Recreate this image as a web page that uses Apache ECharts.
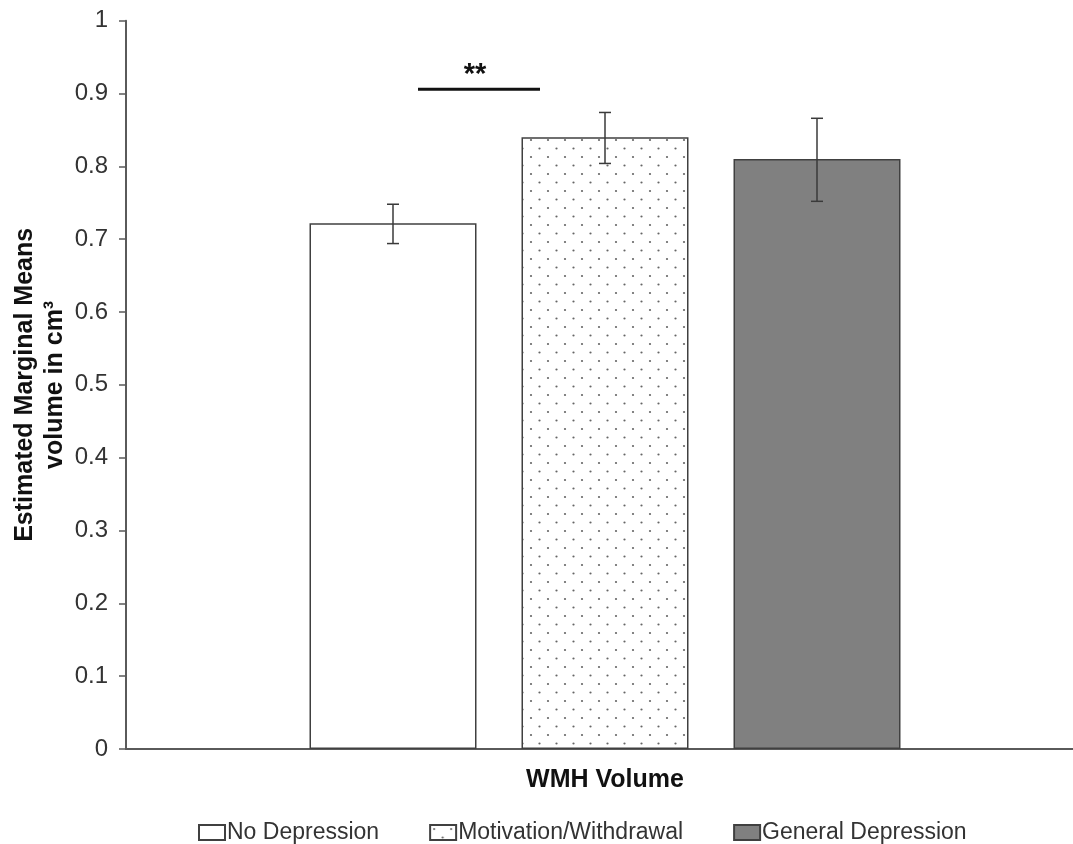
<!DOCTYPE html>
<html>
<head>
<meta charset="utf-8">
<script src="https://cdn.jsdelivr.net/npm/echarts@6/dist/echarts.min.js"></script>
<style>
html,body{margin:0;padding:0;background:#fff;}
#chart{width:1073px;height:844px;}
</style>
</head>
<body>
<div id="chart"></div>
<script>
// ---- data ----
var categories = ['WMH Volume'];
var seriesNames = ['No Depression', 'Motivation/Withdrawal', 'General Depression'];
var means = [0.722, 0.840, 0.810];
var errLow = [0.694, 0.804, 0.752];
var errHigh = [0.748, 0.874, 0.866];
var sigLevel = 0.906;
var sigLabel = '**';
var yTicks = [0, 0.1, 0.2, 0.3, 0.4, 0.5, 0.6, 0.7, 0.8, 0.9, 1];

// ---- styles ----
var FONT = '"Liberation Sans", Arial, sans-serif';
var BAR_W = 167, BAR_GAP = 45;
var edge = '#404040';

function dotPattern() {
  var c = document.createElement('canvas');
  c.width = 17; c.height = 17;
  var ctx = c.getContext('2d');
  ctx.fillStyle = '#fff';
  ctx.fillRect(0, 0, 17, 17);
  ctx.fillStyle = '#666';
  ctx.beginPath(); ctx.arc(4, 4, 1.1, 0, Math.PI * 2); ctx.fill();
  ctx.beginPath(); ctx.arc(12.5, 12.5, 1.1, 0, Math.PI * 2); ctx.fill();
  return c;
}
var fills = ['#ffffff', { image: dotPattern(), repeat: 'repeat' }, '#808080'];

var chart = echarts.init(document.getElementById('chart'), null, { renderer: 'canvas' });

var barSeries = seriesNames.map(function (name, i) {
  return {
    name: name,
    type: 'bar',
    data: [means[i]],
    barWidth: BAR_W,
    barGap: (BAR_GAP / BAR_W * 100) + '%',
    itemStyle: { color: fills[i], borderColor: edge, borderWidth: 1.5 },
    emphasis: { disabled: true },
    z: 2
  };
});

var errData = seriesNames.map(function (n, i) { return [0, errLow[i], errHigh[i], i]; });

var errSeries = {
  name: 'err',
  type: 'custom',
  data: errData,
  encode: { x: 0, y: [1, 2] },
  z: 5,
  silent: true,
  renderItem: function (params, api) {
    var i = api.value(3);
    var off = (i - 1) * (BAR_W + BAR_GAP);
    var lo = api.coord([api.value(0), api.value(1)]);
    var hi = api.coord([api.value(0), api.value(2)]);
    var x = lo[0] + off;
    var st = { stroke: '#3a3a3a', lineWidth: 1.5 };
    return {
      type: 'group',
      children: [
        { type: 'line', shape: { x1: x, y1: lo[1], x2: x, y2: hi[1] }, style: st },
        { type: 'line', shape: { x1: x - 6, y1: lo[1], x2: x + 6, y2: lo[1] }, style: st },
        { type: 'line', shape: { x1: x - 6, y1: hi[1], x2: x + 6, y2: hi[1] }, style: st }
      ]
    };
  }
};

var sigSeries = {
  name: 'sig',
  type: 'custom',
  data: [[0, sigLevel]],
  encode: { x: 0, y: 1 },
  z: 5,
  silent: true,
  renderItem: function (params, api) {
    var p = api.coord([api.value(0), api.value(1)]);
    var x1 = p[0] - (BAR_W + BAR_GAP) + 25;
    var x2 = p[0] - 65;
    return {
      type: 'group',
      children: [
        { type: 'line', shape: { x1: x1, y1: p[1], x2: x2, y2: p[1] }, style: { stroke: '#111', lineWidth: 3 } },
        { type: 'text', style: { x: (x1 + x2) / 2 - 4, y: p[1] - 14, text: sigLabel, fill: '#111',
          font: 'bold 29px ' + FONT, textAlign: 'center', textVerticalAlign: 'middle' } }
      ]
    };
  }
};

chart.setOption({
  animation: false,
  backgroundColor: '#fff',
  textStyle: { fontFamily: FONT },
  grid: { left: 126, width: 958, top: 20.7, bottom: 95, containLabel: false, outerBoundsMode: 'none' },
  legend: {
    data: seriesNames,
    left: 198, top: 821,
    itemWidth: 26, itemHeight: 15, itemGap: 50,
    padding: 0,
    icon: 'rect',
    selectedMode: false,
    textStyle: { fontSize: 23, color: '#333', fontFamily: FONT, padding: [0, 0, 0, -3] }
  },
  xAxis: {
    type: 'category',
    data: categories,
    axisLine: { show: true, lineStyle: { color: '#5a5a5a', width: 2 } },
    axisTick: { show: false },
    axisLabel: { fontSize: 25, fontWeight: 'bold', color: '#111', margin: 19, fontFamily: FONT }
  },
  yAxis: {
    type: 'value',
    min: yTicks[0], max: yTicks[yTicks.length - 1], interval: 0.1,
    splitLine: { show: false },
    axisLine: { show: true, lineStyle: { color: '#5a5a5a', width: 2 } },
    axisTick: { show: true, inside: false, length: 7, lineStyle: { color: '#5a5a5a', width: 1.5 } },
    axisLabel: { fontSize: 24, color: '#333', margin: 18, fontFamily: FONT },
    name: 'Estimated Marginal Means\nvolume in cm\u00b3',
    nameLocation: 'middle',
    nameRotate: 90,
    nameGap: 56,
    nameMoveOverlap: false,
    nameTextStyle: { fontSize: 25, fontWeight: 'bold', color: '#111', lineHeight: 30, fontFamily: FONT }
  },
  series: barSeries.concat([errSeries, sigSeries])
});
</script>
</body>
</html>
